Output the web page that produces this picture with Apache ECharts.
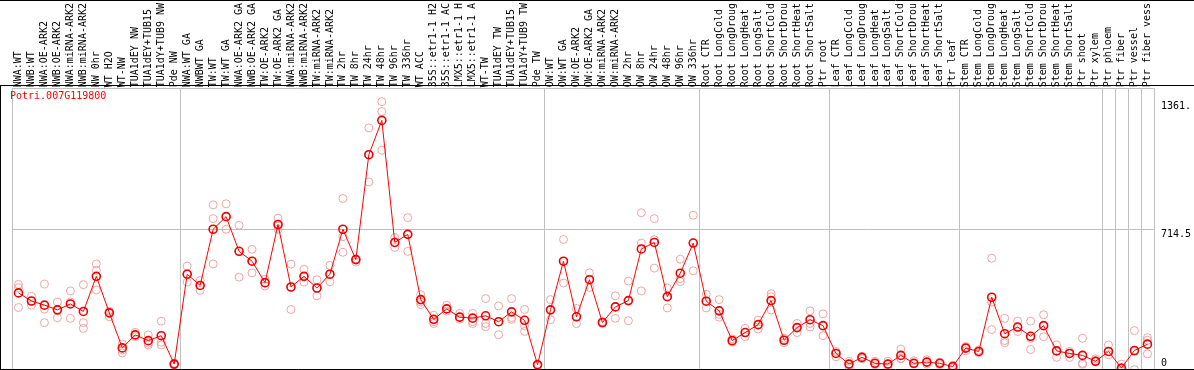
<!DOCTYPE html>
<html><head><meta charset="utf-8">
<script src="https://cdn.jsdelivr.net/npm/echarts@6/dist/echarts.min.js"></script>
<style>html,body{margin:0;padding:0;background:#fff}#c{width:1194px;height:370px}</style>
</head><body><div id="c"></div>
<script>
const geneName = 'Potri.007G119800';

const categories = [
  'NWA:WT','NWB:WT','NWA:OE-ARK2','NWB:OE-ARK2','NWA:miRNA-ARK2','NWB:miRNA-ARK2','NW 0hr','WT H2O','WT-NW',
  'TUA1dEY NW','TUA1dEY+TUB15 NW','TUA1dY+TUB9 NW','Pde NW',
  'NWA:WT GA','NWBWT GA','TW:WT','TW:WT GA','NWA:OE-ARK2 GA','NWB:OE-ARK2 GA','TW:OE-ARK2','TW:OE-ARK2 GA',
  'NWA:miRNA-ARK2','NWB:miRNA-ARK2','TW:miRNA-ARK2','TW:miRNA-ARK2','TW 2hr','TW 8hr','TW 24hr','TW 48hr','TW 96hr','TW 336hr',
  'WT ACC','35S::etr1-1 H2O','35S::etr1-1 ACC','LMX5::etr1-1 H2O','LMX5::etr1-1 ACC','WT-TW',
  'TUA1dEY TW','TUA1dEY+TUB15 TW','TUA1dY+TUB9 TW','Pde TW',
  'OW:WT','OW:WT GA','OW:OE-ARK2','OW:OE-ARK2 GA','OW:miRNA-ARK2','OW:miRNA-ARK2','OW 2hr','OW 8hr','OW 24hr','OW 48hr','OW 96hr','OW 336hr',
  'Root CTR','Root LongCold','Root LongDrought','Root LongHeat','Root LongSalt','Root ShortCold','Root ShortDrought','Root ShortHeat','Root ShortSalt','Ptr root',
  'Leaf CTR','Leaf LongCold','Leaf LongDrought','Leaf LongHeat','Leaf LongSalt','Leaf ShortCold','Leaf ShortDrought','Leaf ShortHeat','Leaf ShortSalt','Ptr leaf',
  'Stem CTR','Stem LongCold','Stem LongDrought','Stem LongHeat','Stem LongSalt','Stem ShortCold','Stem ShortDrought','Stem ShortHeat','Stem ShortSalt','Ptr shoot',
  'Ptr xylem','Ptr phloem','Ptr fiber','Ptr vessel','Ptr fiber vessel'
];

const meanValues = [
  391,350,329,305,335,297,475,290,112,178,149,174,30,
  486,429,714,778,602,552,443,738,421,475,416,486,714,560,1092,1266,647,688,
  357,257,310,268,263,275,245,295,252,27,
  305,552,270,458,241,320,352,614,647,372,491,644,
  349,300,149,190,230,352,151,215,255,225,
  84,30,64,34,30,74,34,40,34,17,
  111,94,369,184,218,171,225,97,84,74,
  44,94,10,99,131
];

const replicateValues = [
  [434,418,317],[374,350,329],[436,309,240],[345,305,265],[401,345,262],[433,240,211],[538,505,406],[299,290,270],
  [132,102,86],[191,178,169],[178,136,127],[248,141,127],[35,30,25],
  [527,486,446],[454,429,404],[838,768,538],[843,778,714],[734,602,471],[612,552,493],[460,441,426],[770,731,714],
  [537,421,307],[511,475,446],[458,416,376],[530,486,448],[870,676,597],[563,560,547],[1228,1092,954],[1361.1,1311,1115],
  [672,647,622],[773,688,602],
  [382,345,332],[278,245,236],[329,310,298],[287,268,258],[287,245,236],[362,236,220],[325,245,179],[362,266,257],[307,225,196],[30,27,22],
  [357,305,255],[662,552,441],[312,270,235],[493,458,419],[245,241,236],[376,320,262],[451,352,250],[798,644,401],[768,661,517],
  [416,372,315],[562,463,448],[785,644,503],
  [384,349,315],[357,282,268],[158,149,141],[211,190,169],[253,230,208],[387,371,304],[161,151,138],[236,215,190],[300,236,218],[285,225,174],
  [94,84,67],[44,30,17],[69,64,57],[44,34,27],[44,30,17],[106,59,57],[47,34,30],[52,40,30],[40,34,27],[24,17,10],
  [119,111,97],[101,94,87],[567,345,205],[262,149,138],[248,218,195],[248,161,104],[280,225,169],[127,97,64],[94,84,64],[161,34,29],
  [57,44,47],[127,94,77],[30,10,2],[200,94,2],[164,151,82]
];

const groupStarts = [0,13,41,53,63,73,84,85,86,87];
const yTickValues = [0, 714.5, 1361.1];
const yMax = 1429;

const MONO = '"DejaVu Sans Mono", monospace';
const sepFn = (i) => groupStarts.indexOf(i) >= 0;
const replicateData = [];
replicateValues.forEach((arr, i) => arr.forEach(v => replicateData.push([i, v])));

const chart = echarts.init(document.getElementById('c'), null, {renderer: 'canvas'});
chart.setOption({
  animation: false,
  backgroundColor: '#fff',
  textStyle: {fontFamily: MONO},
  title: {
    text: geneName, left: 10, top: 91, padding: 0,
    textStyle: {color: '#ff0000', fontSize: 10, fontWeight: 'normal', fontFamily: MONO}
  },
  grid: {left: 12, top: 85, width: 1144, height: 285},
  xAxis: {
    type: 'category', position: 'top', data: categories, boundaryGap: true,
    axisLine: {show: true, lineStyle: {color: '#000', width: 1}},
    axisTick: {show: true, inside: false, length: 85, interval: sepFn, lineStyle: {color: '#c0c0c0'}},
    axisLabel: {interval: 0, rotate: 90, margin: 1, fontSize: 10, fontFamily: MONO, color: '#000',
      width: 86, overflow: 'truncate', ellipsis: ''},
    splitLine: {show: true, interval: sepFn, lineStyle: {color: '#c0c0c0', width: 1}}
  },
  yAxis: {
    type: 'value', position: 'right', min: 0, max: yMax, interval: yMax / 2,
    axisLine: {show: false}, axisTick: {show: false},
    splitLine: {show: true, lineStyle: {color: '#c0c0c0', width: 1}},
    axisLabel: {
      customValues: yTickValues, margin: 7, color: '#000', fontSize: 10, fontFamily: MONO,
      width: 33, overflow: 'truncate', ellipsis: '',
      formatter: (v) => v === 0 ? '{lo|0}' : '{hi|' + v + '}',
      rich: {
        hi: {padding: [10, 0, 0, 0], fontSize: 10, fontFamily: MONO, color: '#000'},
        lo: {padding: [0, 0, 14, 0], fontSize: 10, fontFamily: MONO, color: '#000'}
      }
    }
  },
  series: [
    {
      type: 'scatter', name: 'replicates', data: replicateData, silent: true, z: 2,
      symbol: 'circle', symbolSize: 8,
      itemStyle: {color: 'rgba(0,0,0,0)', borderColor: '#ee8f8f', borderWidth: 1}
    },
    {
      type: 'line', name: 'mean', data: meanValues, z: 3,
      symbol: 'circle', symbolSize: 8,
      itemStyle: {color: 'rgba(0,0,0,0)', borderColor: '#ee0000', borderWidth: 1.6},
      lineStyle: {color: '#ff0000', width: 1}
    }
  ],
  graphic: [
    {type: 'line', shape: {x1: 0, y1: 0.5, x2: 1194, y2: 0.5}, style: {stroke: '#000', lineWidth: 1}, z: 10},
    {type: 'line', shape: {x1: 0, y1: 85.5, x2: 1194, y2: 85.5}, style: {stroke: '#000', lineWidth: 1}, z: 10},
    {type: 'line', shape: {x1: 0, y1: 369.5, x2: 1194, y2: 369.5}, style: {stroke: '#000', lineWidth: 1}, z: 10},
    {type: 'line', shape: {x1: 0.5, y1: 85, x2: 0.5, y2: 370}, style: {stroke: '#000', lineWidth: 1}, z: 10}
  ]
});
</script>
</body></html>
